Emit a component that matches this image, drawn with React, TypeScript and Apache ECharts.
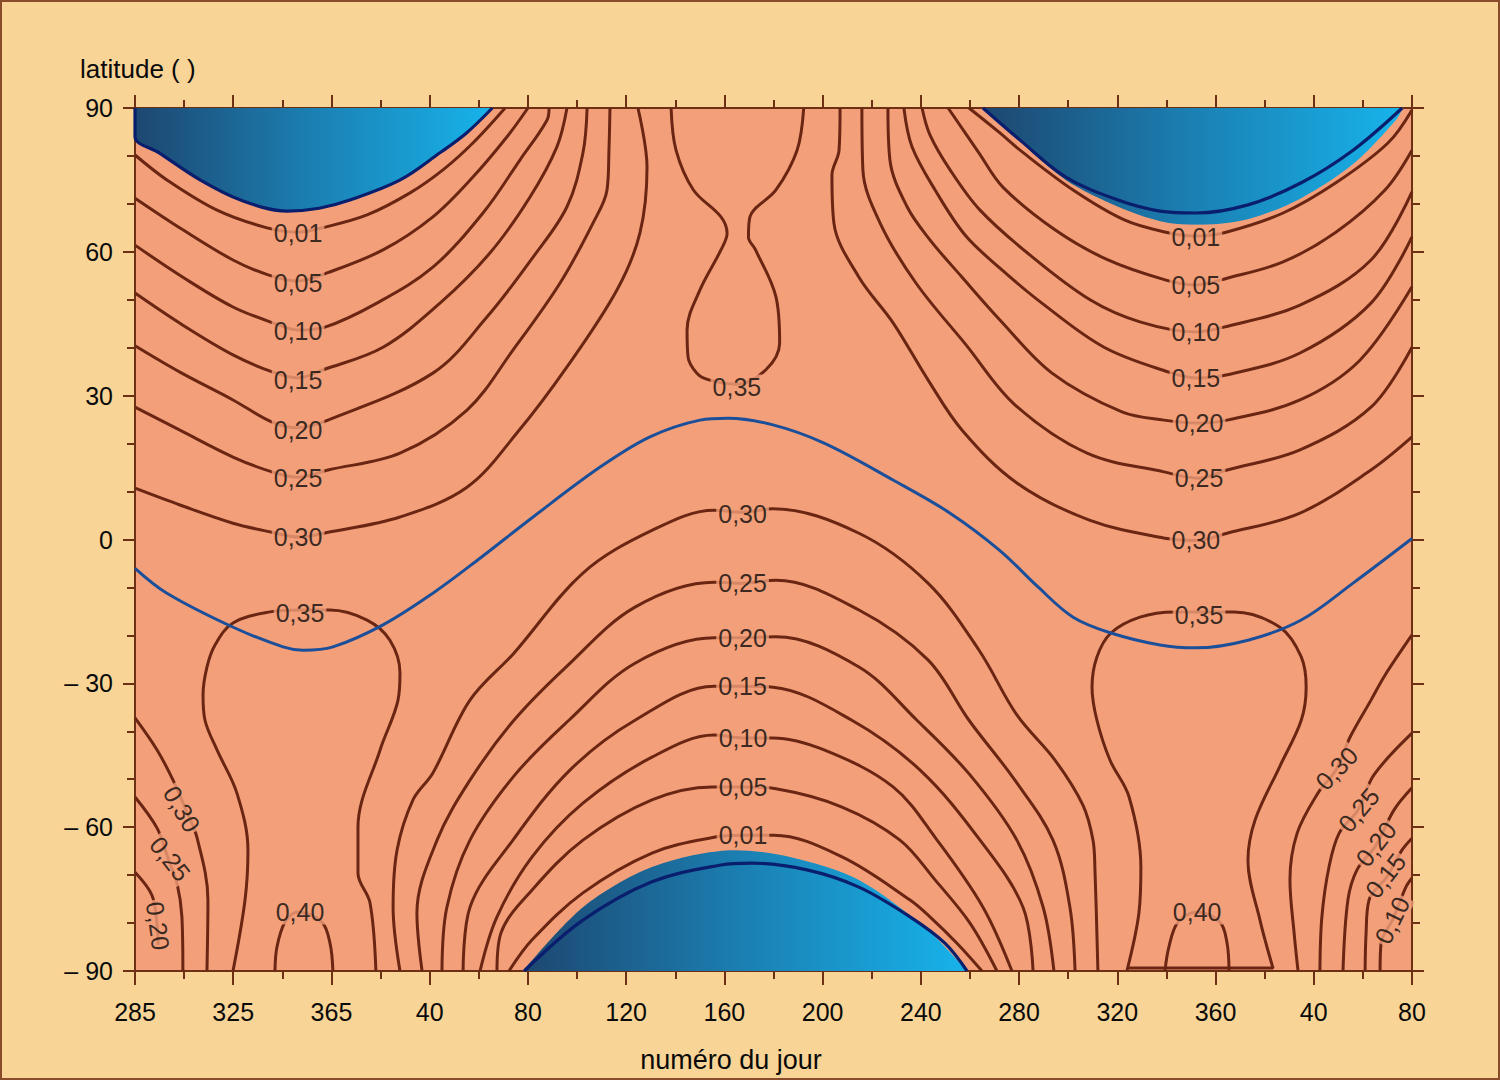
import React, { useEffect, useRef } from 'react';
import * as echarts from 'echarts';

// ---------- axes ----------
const DAY0 = 285; // first day shown; the axis runs continuously over 520 days
const dayTickLabels = ['285', '325', '365', '40', '80', '120', '160', '200', '240', '280', '320', '360', '40', '80'];
const latTicks = [-90, -60, -30, 0, 30, 60, 90];

// ---------- polar night (no sunlight) : [continuous day, latitude] ----------
const polarNightNorth1 = [[285, 90], [285, 84], [295, 80.6], [311.5, 75], [328, 70.8], [347, 68.5], [360, 69.1], [372.5, 70.8], [393, 75], [409, 80.6], [420, 84.8], [430.5, 90]];
const polarNightNorth2Line = [[630.3, 90], [645.4, 83.3], [664, 75.6], [685.3, 70.8], [702.4, 68.5], [717, 68.1], [738.2, 69.8], [759.9, 74.4], [781, 81.2], [801, 90]];
const polarNightNorth2Fill = [[630.3, 90], [645.4, 83.1], [664, 75], [685.3, 69.4], [702.4, 66.4], [717, 65.6], [738.2, 66.8], [759.9, 71.2], [781, 78.3], [798.5, 87.5], [801.3, 90]];
const polarNightSouthLine = [[443.5, -90], [467.4, -79.4], [495.5, -71.4], [523.6, -67.9], [536, -67.5], [558.6, -68.9], [579.8, -72.5], [600.6, -78.7], [614.8, -84.2], [623.8, -90]];
const polarNightSouthFill = [[443, -90], [467.4, -76.7], [495.5, -68.3], [529.3, -64.8], [551.7, -66.2], [579.8, -71], [607.9, -81.5], [623.8, -90]];

// ---------- subsolar latitude (blue line) ----------
const declination = [[285, -6], [298, -11.2], [325, -18.3], [345.3, -22.4], [353.4, -23.1], [365.6, -22.4], [386, -17.8], [406.3, -11.2], [425.5, -3.9], [447.1, 4.7], [474.4, 15.1], [494.7, 21.4], [515.1, 24.9], [526.5, 25.3], [544.8, 23.9], [565.6, 20.1], [593.7, 12.4], [616.9, 5.5], [637.2, -2.3], [652.7, -9.9], [667, -16.2], [682.4, -19.5], [702.4, -22], [717, -22.6], [738.2, -21], [759.9, -16.8], [781, -9.1], [805, 0.2]];

// ---------- contours, northern winter (first) ----------
const c001N1 = [[285, 80.2], [298, 75], [318.4, 68.7], [338.8, 65], [351.4, 64.1], [361.1, 65], [379.5, 67.7], [397, 72.3], [410.4, 77.1], [422.6, 82.7], [435.7, 90]];
const c005N1 = [[285, 71.2], [304.5, 64.6], [324.9, 58.3], [339.2, 55.2], [351.4, 53.9], [363.2, 55.6], [386, 60.4], [406.3, 67.3], [422.6, 75.6], [436.5, 84], [445, 90]];
const c010N1 = [[285, 61.4], [304.5, 54.7], [324.9, 48.5], [341.2, 45.2], [351.4, 43.7], [362.4, 44.3], [383.5, 49.3], [406.3, 56.8], [426.7, 68.1], [441.8, 79.2], [452.8, 87.5], [453.6, 90]];
const c015N1 = [[285, 51.4], [304.5, 44.7], [324.9, 38.5], [341.2, 34.9], [351.4, 33.7], [361.6, 35.4], [386, 40.1], [409.2, 49.3], [429.6, 59.8], [445.8, 71.4], [456.8, 81.9], [460.9, 90]];
const c020N1 = [[285, 40.4], [303.3, 34.9], [324.9, 29.1], [340.8, 24.5], [351.4, 23.3], [363.6, 24.9], [406.3, 34.7], [428.3, 46.4], [447.1, 58.9], [460.9, 69.4], [467.4, 80.6], [469.1, 90]];
const c025N1 = [[285, 27.6], [303.3, 22.8], [324.9, 17.2], [340.8, 14.1], [351.4, 13], [363.6, 14.5], [392.9, 18], [420.2, 27], [438.9, 39.5], [458.1, 53.5], [471.5, 66], [477.2, 72.9], [478, 81.2], [478.4, 90]];
const c030N1 = [[285, 10.7], [303.3, 7.2], [324.9, 3.4], [340.8, 1.5], [351.4, 0.5], [363.6, 1.5], [392.9, 4.7], [420.2, 10.9], [440.5, 22.2], [460.9, 36], [481.3, 52.1], [490.6, 63.9], [493.5, 77.7], [489.8, 90]];

// ---------- contours, northern winter (second) ----------
const c001N2 = [[624.6, 90], [637.2, 84.8], [645.4, 81.2], [667, 72.9], [688.1, 66.6], [704.8, 64.1], [717, 63.3], [729.3, 64.1], [752.5, 68.1], [774, 74.4], [795.2, 82.7], [805, 89.6]];
const c005N2 = [[616.1, 90], [628.7, 80.6], [638.4, 73.5], [659.6, 64.6], [681.2, 58.3], [704.8, 54.1], [717, 53.1], [729.7, 54.5], [752.5, 57.9], [774, 64.1], [794, 72.9], [805, 81.2]];
const c010N2 = [[605.5, 90], [608.7, 84.4], [616.9, 77.1], [629.1, 68.7], [649.5, 59.3], [673.9, 50], [694.2, 45.4], [717, 43.3], [728.4, 44.3], [759.4, 48.9], [788.3, 58.3], [805, 72.5]];
const c015N2 = [[598.1, 90], [601.4, 81.9], [610.8, 72.9], [623, 63.5], [637.2, 56.6], [654.3, 49.3], [679.6, 40.1], [706, 34.9], [717, 33.7], [729.3, 34.3], [759.4, 38.9], [788.3, 49.3], [805, 63.1]];
const c020N2 = [[591.6, 90], [592.4, 79.2], [599.4, 69.4], [608.7, 62.5], [621.8, 54.7], [637.2, 45.8], [658.4, 34.7], [686.9, 26.6], [704, 24.9], [718.3, 24.3], [729.7, 24.9], [759.4, 29.1], [783.8, 37.4], [805, 52.7]];
const c025N2 = [[581, 90], [581.4, 77.1], [588.4, 66], [603, 53.5], [623.4, 40.6], [643.3, 28.1], [672.7, 18], [704, 14.1], [718.3, 12.8], [729.7, 14.5], [759.4, 18.7], [788.3, 27.6], [805, 40.1]];
const c030N2 = [[572.1, 90], [571.7, 81.2], [568.8, 76], [569.6, 66], [579.8, 54.7], [593.7, 45.2], [607.9, 33.3], [621.8, 22.8], [644.1, 11.8], [673.9, 4], [705.2, 0.2], [717, -0.2], [729.7, 1.3], [759.4, 5.5], [788.3, 14.5], [805, 21.4]];

// ---------- northern summer 0,35 (hourglass) ----------
const c035Top = [[503.3, 90], [505.3, 81.2], [512.4, 72.9], [523.6, 67.3], [526.1, 63.9], [523.6, 60.4], [515.1, 52.1], [509.8, 43.7], [510.2, 38.1], [513.8, 34.7], [518.7, 33.3], [530.1, 32.4], [541.9, 35.4], [547.5, 41], [546, 50.6], [537.7, 60.4], [534.8, 63.1], [535.4, 67.3], [546, 72.9], [554.6, 81.2], [557.3, 90]];

// ---------- southern winter arches ----------
const c030C = [[392.9, -90], [390.1, -76.7], [391.7, -64.8], [398.2, -54.3], [406.3, -48.7], [421.4, -33.5], [439.3, -23.7], [467.4, -7], [495.5, 1.9], [520.8, 6.1], [532.2, 5.7], [544.8, 6.4], [579.8, 1.3], [607.9, -9.1], [628.7, -23.1], [644.1, -36.6], [659.6, -46], [671, -55.4], [675.1, -62.7], [675.9, -68.9], [677.1, -90]];
const c025C = [[401.9, -90], [399.8, -77.9], [408, -62.7], [421.4, -50.2], [439.3, -37.7], [460.5, -26.6], [488.6, -14.1], [520.8, -8.9], [532.2, -9.1], [546, -8.5], [579.8, -14.7], [607.9, -25.1], [624.6, -37.7], [643.3, -50.2], [658.8, -62.7], [665.7, -76.7], [667.8, -90]];
const c020C = [[410, -90], [412, -76.7], [421.4, -62.7], [439.7, -49.1], [461.7, -37.7], [488.6, -25.8], [520.8, -20.5], [532.2, -20.5], [546, -20.3], [579.8, -26.6], [603.4, -37.7], [625, -49.1], [644.1, -62.7], [654.8, -76.7], [659.2, -90]];
const c015C = [[418.6, -90], [421.4, -76.7], [438.9, -62.7], [462.1, -48.1], [488.6, -37.7], [520.8, -30.6], [532.2, -30.6], [544.8, -30.8], [576.9, -37.7], [604.7, -48.1], [629.1, -62.7], [646.6, -76.7], [650.7, -90]];
const c010C = [[425.5, -90], [432.4, -78.7], [446.7, -66.2], [467.4, -55], [495.5, -45.4], [520.8, -40.8], [532.6, -41.4], [544.8, -41.4], [565.6, -43.9], [593.7, -51.6], [611.6, -62.7], [630.3, -76.7], [642.1, -90]];
const c005C = [[432.4, -90], [434, -82.1], [446.7, -73.1], [467.4, -62.7], [495.5, -54.3], [520, -51.6], [532.6, -51.6], [546, -52], [572.9, -55.8], [596.5, -62.7], [610.8, -71], [625, -80], [636, -90]];
const c001C = [[437.3, -90], [446.7, -83.5], [467.4, -73.7], [495.5, -65.4], [520.8, -62.1], [532.6, -61.7], [545.2, -61.7], [572.9, -66.2], [600.6, -75.2], [608.7, -78.7], [619.7, -84.2], [629.9, -90]];

// ---------- southern summer (first) ----------
const c035S1 = [[324.9, -90], [329.8, -75.2], [331, -64.8], [326.5, -52.9], [318.4, -43.9], [313.5, -37.7], [312.7, -32.4], [314.3, -26.6], [317.6, -22], [324.9, -17.4], [340, -15.1], [352.2, -14.7], [364.4, -14.7], [379.5, -16.8], [388.8, -21], [392.9, -27.8], [392.1, -33.5], [384.8, -43.9], [375.8, -60], [375.8, -69.6], [380.7, -75.8], [383.1, -90]];
const c040S1 = [[342, -90], [342.8, -85], [346.1, -79.8], [351.4, -77.7], [361.1, -79.8], [364.4, -84.2], [365.6, -90]];
const c030S1 = [[285, -37.2], [294, -43.9], [300.5, -50.2], [305.4, -56], [310.2, -62.1], [314.7, -75.2], [314.3, -90]];
const c025S1 = [[285, -53.7], [294, -60.2], [298.4, -66.4], [302.1, -71.7], [304.1, -78.7], [304.5, -90]];
const c020S1 = [[285, -69.4], [291.9, -74.2], [294, -80.4], [294.4, -84.6]];

// ---------- southern summer (second) ----------
const c035S2 = [[688.9, -90], [693.8, -77.9], [694.6, -68.3], [689.8, -53.7], [682, -46], [676.7, -37.7], [674.7, -30.8], [676.7, -24.5], [682.4, -19.5], [694.2, -16.2], [708.3, -15.1], [718.3, -15.1], [732.5, -15.1], [751.2, -18.3], [759.9, -24.5], [761.9, -30.8], [759.9, -37.7], [751.1, -47.4], [741.1, -58.5], [738.2, -66.9], [743.1, -79.4], [748.4, -89.4], [688.9, -89.4]];
const c040S2 = [[704.4, -90], [706, -85], [709.7, -79.8], [717.5, -77.7], [726.8, -79.8], [729.7, -84.2], [730.5, -90]];
const c030S2 = [[805, -19.9], [794, -28.3], [788.3, -33.5], [779.8, -41.2], [774, -48.1], [766.7, -52.9], [758.2, -61.3], [755.3, -71], [757, -82.1], [758.6, -90]];
const c025S2 = [[805, -40.4], [789.5, -49.1], [783, -56.4], [775.3, -61.3], [771.2, -68.3], [768.3, -78.7], [767.5, -90]];
const c020S2 = [[805, -51.8], [797.7, -56.4], [790.3, -63.8], [782.6, -68.9], [778.9, -75.2], [776.9, -90]];
const c015S2 = [[805, -62.3], [800.9, -64.8], [794.7, -70.4], [787.5, -75.2], [786.3, -82.1], [785.9, -90]];
const c010S2 = [[805, -70.6], [802.5, -72.5], [797.5, -78.9], [792.4, -84.2], [792, -90]];

const contours = [
  c001N1, c005N1, c010N1, c015N1, c020N1, c025N1, c030N1,
  c001N2, c005N2, c010N2, c015N2, c020N2, c025N2, c030N2,
  c035Top,
  c030C, c025C, c020C, c015C, c010C, c005C, c001C,
  c035S1, c040S1, c030S1, c025S1, c020S1,
  c035S2, c040S2, c030S2, c025S2, c020S2, c015S2, c010S2,
];

// ---------- contour labels: [text, day, latitude, rotation] ----------
const contourLabels = [
  ['0,01', 351.4, 63.9, 0], ['0,05', 351.4, 53.5, 0], ['0,10', 351.4, 43.5, 0], ['0,15', 351.4, 33.3, 0],
  ['0,20', 351.4, 22.8, 0], ['0,25', 351.4, 12.8, 0], ['0,30', 351.4, 0.5, 0],
  ['0,01', 717, 63.1, 0], ['0,05', 717, 53.1, 0], ['0,10', 717, 43.3, 0], ['0,15', 717, 33.7, 0],
  ['0,20', 718.3, 24.3, 0], ['0,25', 718.3, 12.8, 0], ['0,30', 717, -0.2, 0],
  ['0,35', 530.1, 31.8, 0],
  ['0,30', 532.4, 5.3, 0], ['0,25', 532.4, -9.1, 0], ['0,20', 532.4, -20.5, 0], ['0,15', 532.4, -30.6, 0],
  ['0,10', 532.6, -41.4, 0], ['0,05', 532.6, -51.6, 0], ['0,01', 532.6, -61.7, 0],
  ['0,35', 352.2, -15.3, 0], ['0,40', 352.2, -77.7, 0],
  ['0,30', 304.1, -56.2, -60], ['0,25', 299.3, -66.6, -52], ['0,20', 294.4, -80.6, -82],
  ['0,35', 718.3, -15.7, 0], ['0,40', 717.5, -77.7, 0],
  ['0,30', 774.3, -47.7, 46], ['0,25', 783.3, -56.4, 50], ['0,20', 790.3, -63.5, 52], ['0,15', 794.2, -70.1, 52], ['0,10', 796.9, -79.4, 64],
];

// ---------- styles ----------
const BG = '#F8D597';
const PLOT = '#F3A07A';
const BROWN = '#6A2612';
const AXIS = '#6E3015';
const BLUE = '#1C4F9A';
const NAVY = '#0A1E6E';
const FONT = "'Liberation Sans', Arial, Helvetica, sans-serif";

const toXY = (pts: number[][]) => pts.map(([d, l]) => [d - DAY0, l]);

const nightGradient = () =>
  new echarts.graphic.LinearGradient(0, 0, 1, 0, [
    { offset: 0, color: '#1D4770' },
    { offset: 0.5, color: '#1B80B3' },
    { offset: 1, color: '#17B3EA' },
  ]);

const fillSeries = (pts: number[][], origin: string) => ({
  type: 'line',
  data: toXY(pts),
  symbol: 'none',
  smooth: 0.3,
  silent: true,
  lineStyle: { width: 0, opacity: 0 },
  areaStyle: { origin, opacity: 1, color: nightGradient() },
  z: 2,
});

const lineSeries = (pts: number[][], color: string, width: number, z: number) => ({
  type: 'line',
  data: toXY(pts),
  symbol: 'none',
  smooth: 0.35,
  silent: true,
  lineStyle: { color, width },
  z,
});

const axisLineStyle = { show: true, onZero: false, lineStyle: { color: AXIS, width: 2 } };

export default function App() {
  const ref = useRef<HTMLDivElement>(null);

  useEffect(() => {
    if (!ref.current) return;
    const chart = echarts.init(ref.current, null, { renderer: 'svg' });

    const xCommon = {
      type: 'value',
      min: 0,
      max: 520,
      interval: 40,
      splitLine: { show: false },
      axisLine: axisLineStyle,
      minorTick: { show: true, splitNumber: 2, length: 8, lineStyle: { color: AXIS, width: 2 } },
    };
    const yCommon = {
      type: 'value',
      min: -90,
      max: 90,
      interval: 30,
      splitLine: { show: false },
      axisLine: axisLineStyle,
      axisTick: { show: true, length: 12, lineStyle: { color: AXIS, width: 2 } },
      minorTick: { show: true, splitNumber: 3, length: 8, lineStyle: { color: AXIS, width: 2 } },
    };

    const series: any[] = [
      fillSeries(polarNightNorth1, 'end'),
      fillSeries(polarNightNorth2Fill, 'end'),
      fillSeries(polarNightSouthFill, 'start'),
      ...contours.map((c) => lineSeries(c, BROWN, 3, 3)),
      lineSeries(declination, BLUE, 3, 4),
      lineSeries(polarNightNorth1, NAVY, 3.2, 4),
      lineSeries(polarNightNorth2Line, NAVY, 3.2, 4),
      lineSeries(polarNightSouthLine, NAVY, 3.2, 4),
      {
        type: 'scatter',
        silent: true,
        symbol: 'circle',
        symbolSize: 1,
        itemStyle: { color: 'rgba(0,0,0,0)' },
        z: 10,
        data: contourLabels.map(([t, d, l, r]) => ({
          name: t,
          value: [(d as number) - DAY0, l],
          label: { rotate: r },
        })),
        label: {
          show: true,
          position: 'inside',
          formatter: '{b}',
          fontSize: 25,
          fontFamily: FONT,
          color: '#0A0A0A',
          backgroundColor: PLOT,
          padding: [0, 2],
          align: 'center',
          verticalAlign: 'middle',
        },
      },
    ];

    chart.setOption({
      animation: false,
      backgroundColor: BG,
      grid: { left: 135, right: 88, top: 108, bottom: 109, show: true, backgroundColor: PLOT, borderWidth: 0 },
      xAxis: [
        {
          ...xCommon,
          position: 'bottom',
          axisTick: { show: true, length: 14, lineStyle: { color: AXIS, width: 2 } },
          axisLabel: {
            margin: 28,
            fontSize: 25,
            fontFamily: FONT,
            color: '#0A0A0A',
            showMinLabel: true,
            showMaxLabel: true,
            formatter: (v: number) => dayTickLabels[Math.round(v / 40)] ?? '',
          },
        },
        {
          ...xCommon,
          position: 'top',
          axisTick: { show: true, length: 13, lineStyle: { color: AXIS, width: 2 } },
          axisLabel: { show: false },
        },
      ],
      yAxis: [
        {
          ...yCommon,
          position: 'left',
          axisLabel: {
            margin: 22,
            fontSize: 25,
            fontFamily: FONT,
            color: '#0A0A0A',
            showMinLabel: true,
            showMaxLabel: true,
            formatter: (v: number) => (latTicks.includes(v) ? (v < 0 ? '\u2013 ' + Math.abs(v) : String(v)) : ''),
          },
        },
        {
          ...yCommon,
          position: 'right',
          axisLabel: { show: false },
        },
      ],
      graphic: [
        {
          type: 'rect',
          silent: true,
          shape: { x: 1, y: 1, width: 1498, height: 1078 },
          style: { fill: 'transparent', stroke: '#8A4B2A', lineWidth: 2 },
          z: 100,
        },
        {
          type: 'text',
          x: 80,
          y: 69,
          silent: true,
          style: { text: 'latitude ( )', fontSize: 26, fontFamily: FONT, fill: '#0A0A0A', align: 'left', verticalAlign: 'middle', textAlign: 'left', textVerticalAlign: 'middle' },
        },
        {
          type: 'text',
          x: 731,
          y: 1060,
          silent: true,
          style: { text: 'numéro du jour', fontSize: 27, fontFamily: FONT, fill: '#0A0A0A', align: 'center', verticalAlign: 'middle', textAlign: 'center', textVerticalAlign: 'middle' },
        },
      ],
      series,
    });

    return () => chart.dispose();
  }, []);

  return <div ref={ref} style={{ position: 'absolute', left: 0, top: 0, width: 1500, height: 1080 }} />;
}
